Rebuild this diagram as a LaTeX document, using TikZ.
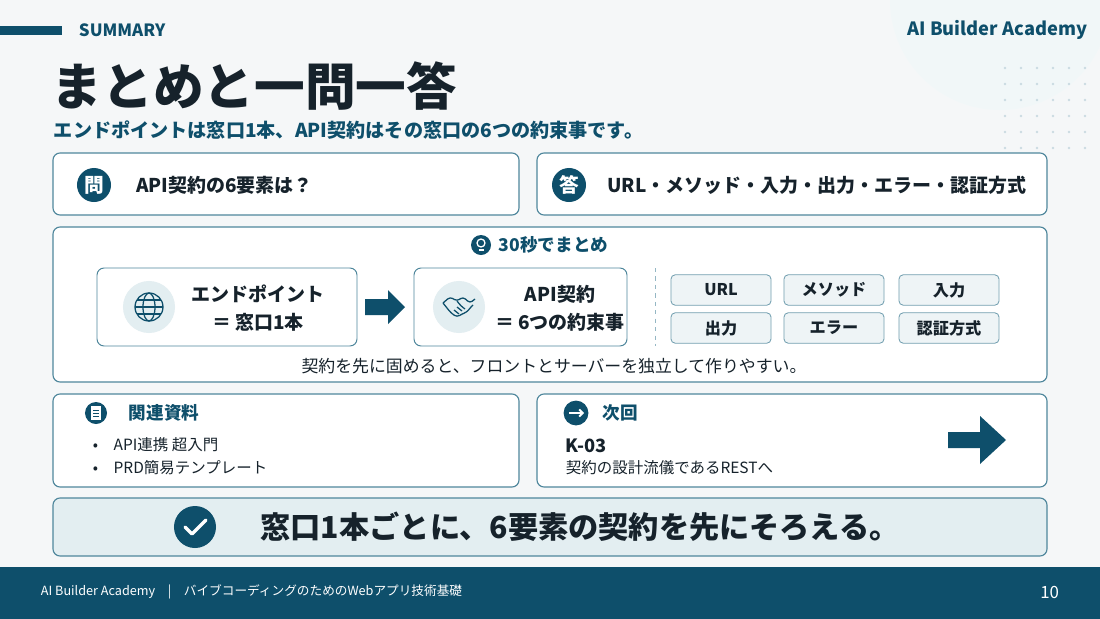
\documentclass[tikz,border=0pt]{standalone}
\usepackage{fontspec}
\setmainfont{Noto Sans CJK JP}
\usetikzlibrary{arrows.meta, positioning}
\definecolor{teal}{HTML}{0E4F6B}
\definecolor{edge}{HTML}{4F879C}
\definecolor{pale}{HTML}{E3EEF1}
\definecolor{chip}{HTML}{EEF4F6}
\definecolor{bg}{HTML}{F5F7F8}
\definecolor{ink}{HTML}{16222B}

\begin{document}
\begin{tikzpicture}[x=0.025cm, y=-0.025cm,
        card/.style={draw=edge, line width=0.8pt, rounded corners=5pt, fill=white},
        chipbox/.style={rectangle, draw=edge!80, line width=0.6pt, rounded corners=3pt, fill=chip, minimum width=2.5cm, minimum height=0.76cm, font=\fontsize{11.5}{12}\selectfont\bfseries, text=ink},
        badge/.style={circle, fill=teal, text=white, minimum size=0.85cm, inner sep=0pt, font=\fontsize{14}{14}\selectfont\bfseries},
        iconbg/.style={circle, fill=pale, minimum size=1.3cm, inner sep=0pt},
        head/.style={anchor=west, font=\fontsize{13.5}{15}\selectfont\bfseries, text=ink},
        inner/.style={align=center, font=\fontsize{13.5}{20}\selectfont\bfseries, text=ink},
        body/.style={font=\fontsize{11}{12}\selectfont, text=ink}
        ]

        % Background
        \useasboundingbox (0,0) rectangle (1100,619);
        \clip (0,0) rectangle (1100,619);
        \fill[bg] (0,0) rectangle (1100,619);
        \fill[pale!50] (1000,0) circle (110);
        \foreach \i in {0,...,5} \foreach \j in {0,...,5}
            \fill[edge!30] (1005+\i*16, 68+\j*16) circle (1.3);

        % Header
        \fill[teal] (0,26) rectangle (62,35);
        \node (tag) [anchor=west, text=teal, font=\fontsize{12}{12}\selectfont\bfseries] at (74,30) {SUMMARY};
        \node (brand) [anchor=east, text=teal, font=\fontsize{13}{13}\selectfont\bfseries] at (1092,30) {AI Builder Academy};
        \node (title) [anchor=west, text=ink, font=\fontsize{36}{36}\selectfont\bfseries] at (47,86) {まとめと一問一答};
        \node (lead) [anchor=west, text=teal, font=\fontsize{13.6}{14}\selectfont\bfseries] at (49,130) {エンドポイントは窓口1本、API契約はその窓口の6つの約束事です。};

        % Question and answer
        \draw[card] (53,153) rectangle (519,215);
        \node (qbadge) [badge] at (94,185) {問};
        \node (qtext) [head, right=0.5cm of qbadge] {API契約の6要素は？};
        \draw[card] (537,153) rectangle (1047,215);
        \node (abadge) [badge] at (569,185) {答};
        \node (atext) [head, right=0.4cm of abadge] {URL・メソッド・入力・出力・エラー・認証方式};

        % 30 second summary
        \draw[card] (53,227) rectangle (1047,382);
        \node (bulb) [circle, fill=teal, minimum size=0.5cm, inner sep=0pt] at (481,245) {};
        \draw[white, line width=0.9pt] (481,243) circle (4);
        \draw[white, line width=0.9pt] (478.5,250) -- (483.5,250);
        \node (sumhead) [anchor=west, text=teal, font=\fontsize{12.5}{13}\selectfont\bfseries] at (494,245) {30秒でまとめ};

        \draw[card, line width=0.7pt] (97,268) rectangle (357,346);
        \node (globe) [iconbg] at (149,307) {};
        \begin{scope}[shift={(149,307)}, teal, line width=0.9pt]
            \draw (0,0) circle (14);
            \draw (0,0) ellipse (6 and 14);
            \draw (-14,0) -- (14,0) (-12,-7) -- (12,-7) (-12,7) -- (12,7);
        \end{scope}
        \node (ep) [inner] at (258,308) {エンドポイント\\＝ 窓口1本};

        \fill[teal] (365,299) -- (388,299) -- (388,290) -- (405,307) -- (388,324) -- (388,315) -- (365,315) -- cycle;

        \draw[card, line width=0.7pt] (414,268) rectangle (627,346);
        \node (shake) [iconbg] at (459,307) {};
        \begin{scope}[shift={(459,307)}, teal, line width=0.9pt, rounded corners=2pt]
            \draw (-16,-4) -- (-9,-10) -- (-2,-6) -- (4,-10) -- (11,-4) -- (16,-8);
            \draw (-16,-4) -- (-8,6) -- (-2,10) -- (3,7) -- (8,5) -- (11,1) -- (14,-2);
            \draw (-2,-6) -- (2,-1) -- (6,2);
            \draw (-5,3) -- (0,7) (-2,0) -- (3,4);
        \end{scope}
        \node (contract) [inner] at (560,308) {API契約\\＝ 6つの約束事};

        \draw[edge!60, dashed] (655,268) -- (655,346);
        \node (c1) [chipbox] at (721,290) {URL};
        \node (c2) [chipbox] at (834,290) {メソッド};
        \node (c3) [chipbox] at (949,290) {入力};
        \node (c4) [chipbox] at (721,328) {出力};
        \node (c5) [chipbox] at (834,328) {エラー};
        \node (c6) [chipbox] at (949,328) {認証方式};

        \node (merit) [body, font=\fontsize{12}{12}\selectfont] at (554,366) {契約を先に固めると、フロントとサーバーを独立して作りやすい。};

        % Related material and next
        \draw[card] (53,394) rectangle (519,487);
        \node (doc) [circle, fill=teal, minimum size=0.55cm, inner sep=0pt] at (96,413) {};
        \fill[white] (91,406) rectangle (101,420);
        \draw[teal, line width=0.6pt] (93,410) -- (99,410) (93,413) -- (99,413) (93,416) -- (99,416);
        \node (refhead) [anchor=west, text=teal, font=\fontsize{12.5}{13}\selectfont\bfseries] at (124,413) {関連資料};
        \node (ref1) [body, anchor=west] at (88,445) {•\quad API連携 超入門};
        \node (ref2) [body, anchor=west] at (88,468) {•\quad PRD簡易テンプレート};

        \draw[card] (537,394) rectangle (1047,487);
        \node (nexticon) [circle, fill=teal, minimum size=0.62cm, inner sep=0pt] at (576,413) {};
        \draw[white, line width=1.3pt, -{Straight Barb[length=2.5pt]}] (569,413) -- (584,413);
        \node (nexthead) [anchor=west, text=teal, font=\fontsize{12.5}{13}\selectfont\bfseries] at (598,413) {次回};
        \node (code) [anchor=west, text=ink, font=\fontsize{13}{13}\selectfont\bfseries] at (561,446) {K-03};
        \node (nexttext) [body, anchor=west] at (561,468) {契約の設計流儀であるRESTへ};
        \fill[teal] (948,432) -- (980,432) -- (980,416) -- (1006,440) -- (980,464) -- (980,448) -- (948,448) -- cycle;

        % Key message
        \draw[draw=edge, line width=0.8pt, rounded corners=5pt, fill=pale] (53,498) rectangle (1047,556);
        \node (check) [circle, fill=teal, minimum size=1.05cm, inner sep=0pt] at (195,527) {};
        \draw[white, line width=2.4pt, line cap=round, line join=round] (185,527) -- (192,534) -- (206,520);
        \node (keymsg) [text=ink, font=\fontsize{21.5}{22}\selectfont\bfseries] at (580,527) {窓口1本ごとに、6要素の契約を先にそろえる。};

        % Footer
        \fill[teal] (0,567) rectangle (1100,619);
        \node (foot) [anchor=west, text=white, font=\fontsize{9}{10}\selectfont] at (36,592) {AI Builder Academy\quad |\quad バイブコーディングのためのWebアプリ技術基礎};
        \node (page) [anchor=east, text=white, font=\fontsize{12}{12}\selectfont] at (1064,592) {10};

    \end{tikzpicture}
\end{document}
